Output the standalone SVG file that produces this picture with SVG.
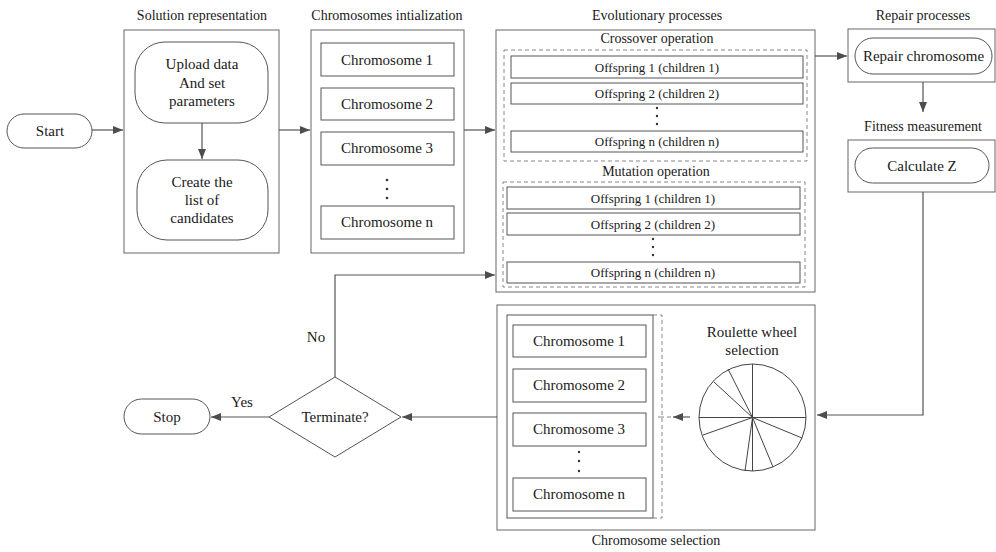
<svg xmlns="http://www.w3.org/2000/svg" width="996" height="552" viewBox="0 0 996 552">
<defs>
<marker id="ah" markerWidth="10" markerHeight="8" refX="10" refY="4" orient="auto" markerUnits="userSpaceOnUse">
<path d="M0,0 L10,4 L0,8 Z" fill="#4d4d4d"/>
</marker>
<style>
text{font-family:"Liberation Serif","Times New Roman",serif;fill:#1a1a1a;text-anchor:middle;dominant-baseline:central}
.t{font-size:14px}
.n{font-size:15px}
.s{font-size:13px}
.box{fill:#fff;stroke:#666;stroke-width:1}
.r{fill:#fff;stroke:#555;stroke-width:1}
.d{fill:none;stroke:#888;stroke-width:1;stroke-dasharray:4 3}
.c{fill:none;stroke:#555;stroke-width:1.2}
.dot{fill:#333}
.w{stroke:#444;stroke-width:1;fill:none}
</style>
</defs>
<rect width="996" height="552" fill="#fff"/>

<g id="start"><rect x="7" y="114" width="85" height="34" rx="17" class="r"/><text x="50" y="131" class="n">Start</text></g>

<g id="solution">
<text x="202" y="15" class="t">Solution representation</text>
<rect x="124" y="30" width="155" height="223" class="box"/>
<rect x="135" y="42" width="133" height="81" rx="30" class="r"/>
<text x="202" y="64" class="n">Upload data</text>
<text x="202" y="83" class="n">And set</text>
<text x="202" y="101" class="n">parameters</text>
<rect x="137" y="160" width="131" height="80" rx="30" class="r"/>
<text x="202" y="182" class="n">Create the</text>
<text x="202" y="200" class="n">list of</text>
<text x="202" y="218" class="n">candidates</text>
</g>

<g id="init">
<text x="387" y="15" class="t">Chromosomes intialization</text>
<rect x="311" y="30" width="153" height="223" class="box"/>
<rect x="321" y="43" width="133" height="33" class="r"/><text x="387" y="60" class="n">Chromosome 1</text>
<rect x="321" y="88" width="133" height="32" class="r"/><text x="387" y="104" class="n">Chromosome 2</text>
<rect x="321" y="132" width="133" height="33" class="r"/><text x="387" y="148" class="n">Chromosome 3</text>
<circle cx="387" cy="180" r="1.3" class="dot"/><circle cx="387" cy="189" r="1.3" class="dot"/><circle cx="387" cy="198" r="1.3" class="dot"/>
<rect x="321" y="206" width="133" height="33" class="r"/><text x="387" y="222" class="n">Chromosome n</text>
</g>

<g id="evolution">
<text x="657" y="15" class="t">Evolutionary processes</text>
<rect x="496" y="30" width="319" height="262" class="box"/>
<text x="657" y="38" class="t">Crossover operation</text>
<rect x="504" y="50" width="303" height="111" class="d"/>
<rect x="511" y="56" width="292" height="22" class="r"/><text x="657" y="67" class="s">Offspring 1 (children 1)</text>
<rect x="511" y="83" width="292" height="21" class="r"/><text x="657" y="93.5" class="s">Offspring 2 (children 2)</text>
<circle cx="657" cy="108" r="1.2" class="dot"/><circle cx="657" cy="116" r="1.2" class="dot"/><circle cx="657" cy="124" r="1.2" class="dot"/>
<rect x="511" y="131" width="292" height="21" class="r"/><text x="657" y="141.5" class="s">Offspring n (children n)</text>
<text x="656" y="171" class="t">Mutation operation</text>
<rect x="503" y="182" width="302" height="105" class="d"/>
<rect x="507" y="187" width="293" height="22" class="r"/><text x="653" y="198" class="s">Offspring 1 (children 1)</text>
<rect x="507" y="213" width="293" height="22" class="r"/><text x="653" y="224" class="s">Offspring 2 (children 2)</text>
<circle cx="653" cy="239" r="1.2" class="dot"/><circle cx="653" cy="247" r="1.2" class="dot"/><circle cx="653" cy="255" r="1.2" class="dot"/>
<rect x="507" y="262" width="293" height="21" class="r"/><text x="653" y="272.5" class="s">Offspring n (children n)</text>
</g>

<g id="repair">
<text x="923" y="15" class="t">Repair processes</text>
<rect x="848" y="29" width="147" height="53" class="box"/>
<rect x="855" y="38" width="137" height="36" rx="18" class="r"/>
<text x="923.5" y="56" class="n">Repair chromosome</text>
</g>

<g id="fitness">
<text x="923" y="126" class="t">Fitness measurement</text>
<rect x="848" y="140" width="147" height="52" class="box"/>
<rect x="855" y="148" width="134" height="35" rx="17.5" class="r"/>
<text x="922" y="165.5" class="n">Calculate Z</text>
</g>

<g id="selection">
<text x="656" y="540" class="t">Chromosome selection</text>
<rect x="497" y="305" width="318" height="225" class="box"/>
<rect x="507" y="315" width="146" height="203" class="r"/>
<rect x="513" y="325" width="133" height="32" class="r"/><text x="579" y="341" class="n">Chromosome 1</text>
<rect x="513" y="369" width="133" height="33" class="r"/><text x="579" y="385" class="n">Chromosome 2</text>
<rect x="513" y="413" width="133" height="33" class="r"/><text x="579" y="429" class="n">Chromosome 3</text>
<circle cx="579" cy="452" r="1.2" class="dot"/><circle cx="579" cy="461" r="1.2" class="dot"/><circle cx="579" cy="471" r="1.2" class="dot"/>
<rect x="513" y="478" width="133" height="33" class="r"/><text x="579" y="494" class="n">Chromosome n</text>
<path d="M653,315 H662 V518 H653 M662,417 H658" class="d"/>
<text x="752" y="332" class="n">Roulette wheel</text>
<text x="752" y="350" class="n">selection</text>
<circle cx="752.5" cy="417.5" r="53.5" class="w"/>
<path d="M699,417.5 H806 M752.5,364 V471 M752.5,417.5 L714,382 M752.5,417.5 L728,369 M752.5,417.5 L703,435 M752.5,417.5 L745,471 M752.5,417.5 L773,467 M752.5,417.5 L802,438" class="w"/>
</g>

<g id="terminate">
<path d="M335,377 L401,417 L335,457 L269,417 Z" class="r"/>
<text x="335" y="417" class="n">Terminate?</text>
</g>

<g id="stop"><rect x="124" y="399" width="86" height="35" rx="17.5" class="r"/><text x="167" y="416.5" class="n">Stop</text></g>

<g id="connectors">
<line x1="92" y1="130" x2="123" y2="130" class="c" marker-end="url(#ah)"/>
<line x1="202" y1="123" x2="202" y2="159" class="c" marker-end="url(#ah)"/>
<line x1="279" y1="130" x2="310" y2="130" class="c" marker-end="url(#ah)"/>
<line x1="464" y1="130" x2="495" y2="130" class="c" marker-end="url(#ah)"/>
<line x1="815" y1="56" x2="847" y2="56" class="c" marker-end="url(#ah)"/>
<line x1="923" y1="82" x2="923" y2="112" class="c" marker-end="url(#ah)"/>
<polyline points="923,192 923,415 817,415" class="c" marker-end="url(#ah)"/>
<line x1="690" y1="417" x2="673" y2="417" class="c" marker-end="url(#ah)"/>
<line x1="671" y1="417" x2="662" y2="417" class="d" stroke="#555"/>
<line x1="497" y1="417" x2="402" y2="417" class="c" marker-end="url(#ah)"/>
<line x1="269" y1="417" x2="211" y2="417" class="c" marker-end="url(#ah)"/>
<polyline points="335,377 335,275 495,275" class="c" marker-end="url(#ah)"/>
<text x="242" y="402" class="n">Yes</text>
<text x="316" y="337" class="n">No</text>
</g>
</svg>
